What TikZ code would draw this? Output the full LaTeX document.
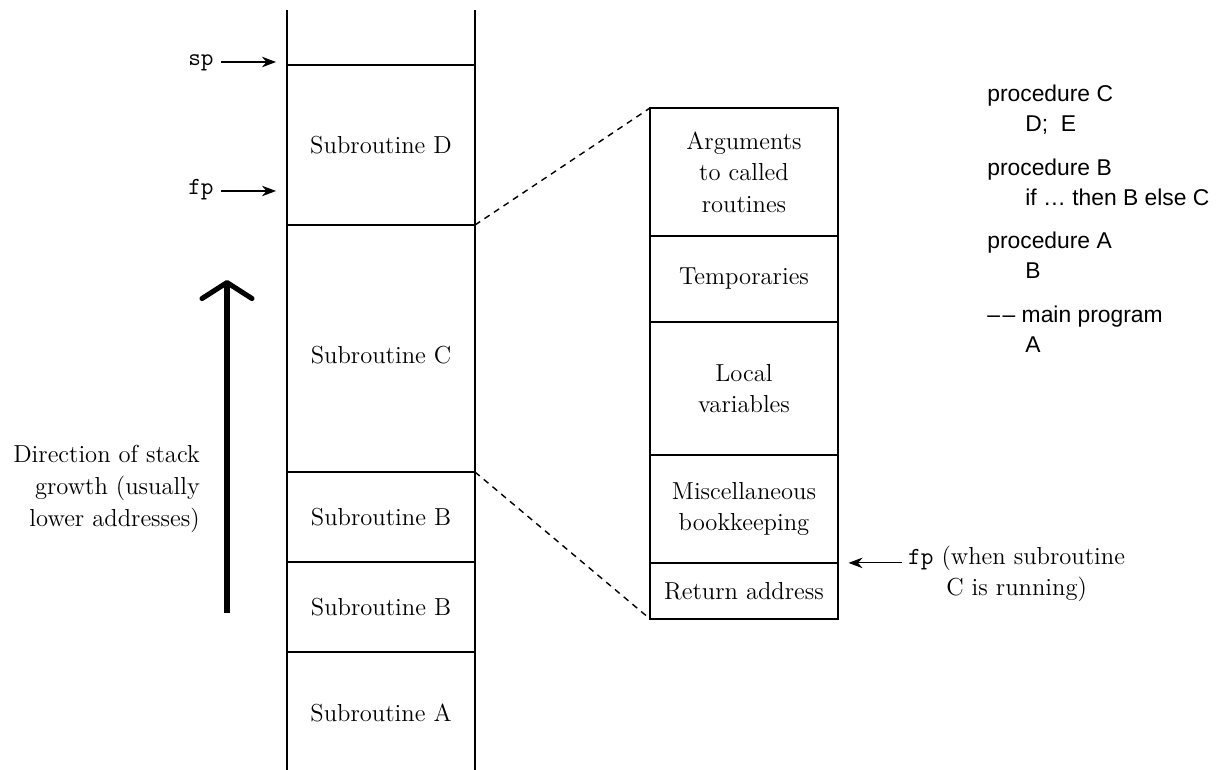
\documentclass[tikz,border=0pt]{standalone}
\usepackage{fontspec}
\newfontfamily\codefont{Liberation Sans}
\usetikzlibrary{positioning,arrows.meta}

\begin{document}
\begin{tikzpicture}[x=0.02cm,y=-0.02cm]
	\tikzset{every node/.style={font=\fontsize{14}{18}\selectfont,align=center}}
	\tikzset{cell/.style={draw,line width=1pt,minimum width=3.76cm,inner sep=0pt,outer sep=0pt}}
	\tikzset{code/.style={font=\fontsize{13}{15}\selectfont\codefont,anchor=base west,inner sep=0pt}}
	\tikzset{reg/.style={font=\fontsize{14}{16}\selectfont\ttfamily,anchor=mid east,inner sep=0pt}}
	\tikzset{ptr/.style={-{Stealth[length=8pt,width=6pt]},line width=0.6pt}}
	\useasboundingbox (0,0) rectangle (1225,770);
	% the stack
	\draw[line width=1pt] (287,10) -- (287,770) (475,10) -- (475,770);
	\foreach \y in {65,225,472,562,652} \draw[line width=1pt] (287,\y) -- (475,\y);
	\node (subD) at (381,145) {Subroutine D};
	\node (subC) at (381,355) {Subroutine C};
	\node (subBtop) at (381,517) {Subroutine B};
	\node (subB) at (381,607) {Subroutine B};
	\node (subA) at (381,713) {Subroutine A};
	\coordinate (topC) at (475,225);
	\coordinate (topB) at (475,472);
	% pointers into the stack
	\node[reg] (sp) at (214,62) {sp};
	\node[reg] (fp) at (214,191) {fp};
	\coordinate (spAt) at (276,62);
	\coordinate (fpAt) at (276,191);
	\draw[ptr] ([xshift=4pt]sp.mid east) -- (spAt);
	\draw[ptr] ([xshift=4pt]fp.mid east) -- (fpAt);
	% growth
	\coordinate (growFrom) at (227,613);
	\coordinate (growTo) at (227,280);
	\draw[line width=2.9pt,-{Straight Barb[length=0.32cm,width=1.0cm,round]}] (growFrom) -- (growTo);
	\node[anchor=east,align=right] (dir) at (206,489) {Direction of stack\\growth (usually\\lower addresses)};
	% one frame
	\node[cell,minimum height=2.56cm,anchor=north west] (args) at (650,108) {Arguments\\to called\\routines};
	\node[cell,minimum height=1.72cm,below=0pt of args] (temps) {Temporaries};
	\node[cell,minimum height=2.66cm,below=0pt of temps] (locals) {Local\\variables};
	\node[cell,minimum height=2.16cm,below=0pt of locals] (misc) {Miscellaneous\\bookkeeping};
	\node[cell,minimum height=1.12cm,below=0pt of misc] (ret) {Return address};
	\draw[dash pattern=on 3.5pt off 3pt,line width=0.8pt] (topC) -- (args.north west);
	\draw[dash pattern=on 3.5pt off 3pt,line width=0.8pt] (topB) -- (ret.south west);
	\node[anchor=west] (fpC) at (902,574) {\texttt{fp} (when subroutine\\C is running)};
	\draw[ptr] (fpC.west |- misc.south) -- ([xshift=6pt]misc.south east);
	% the program
	\node[code] (pC) at (987,102) {procedure C};
	\node[code] (pCbody) at (1025,132) {D;\ \ E};
	\node[code] (pB) at (987,176) {procedure B};
	\node[code] (pBbody) at (1025,206) {if \dots\ then B else C};
	\node[code] (pA) at (987,249) {procedure A};
	\node[code] (pAbody) at (1025,279) {B};
	\node[code] (main) at (987,323) {\textendash\kern1.5pt\textendash\ main program};
	\node[code] (mainbody) at (1025,353) {A};
\end{tikzpicture}
\end{document}
